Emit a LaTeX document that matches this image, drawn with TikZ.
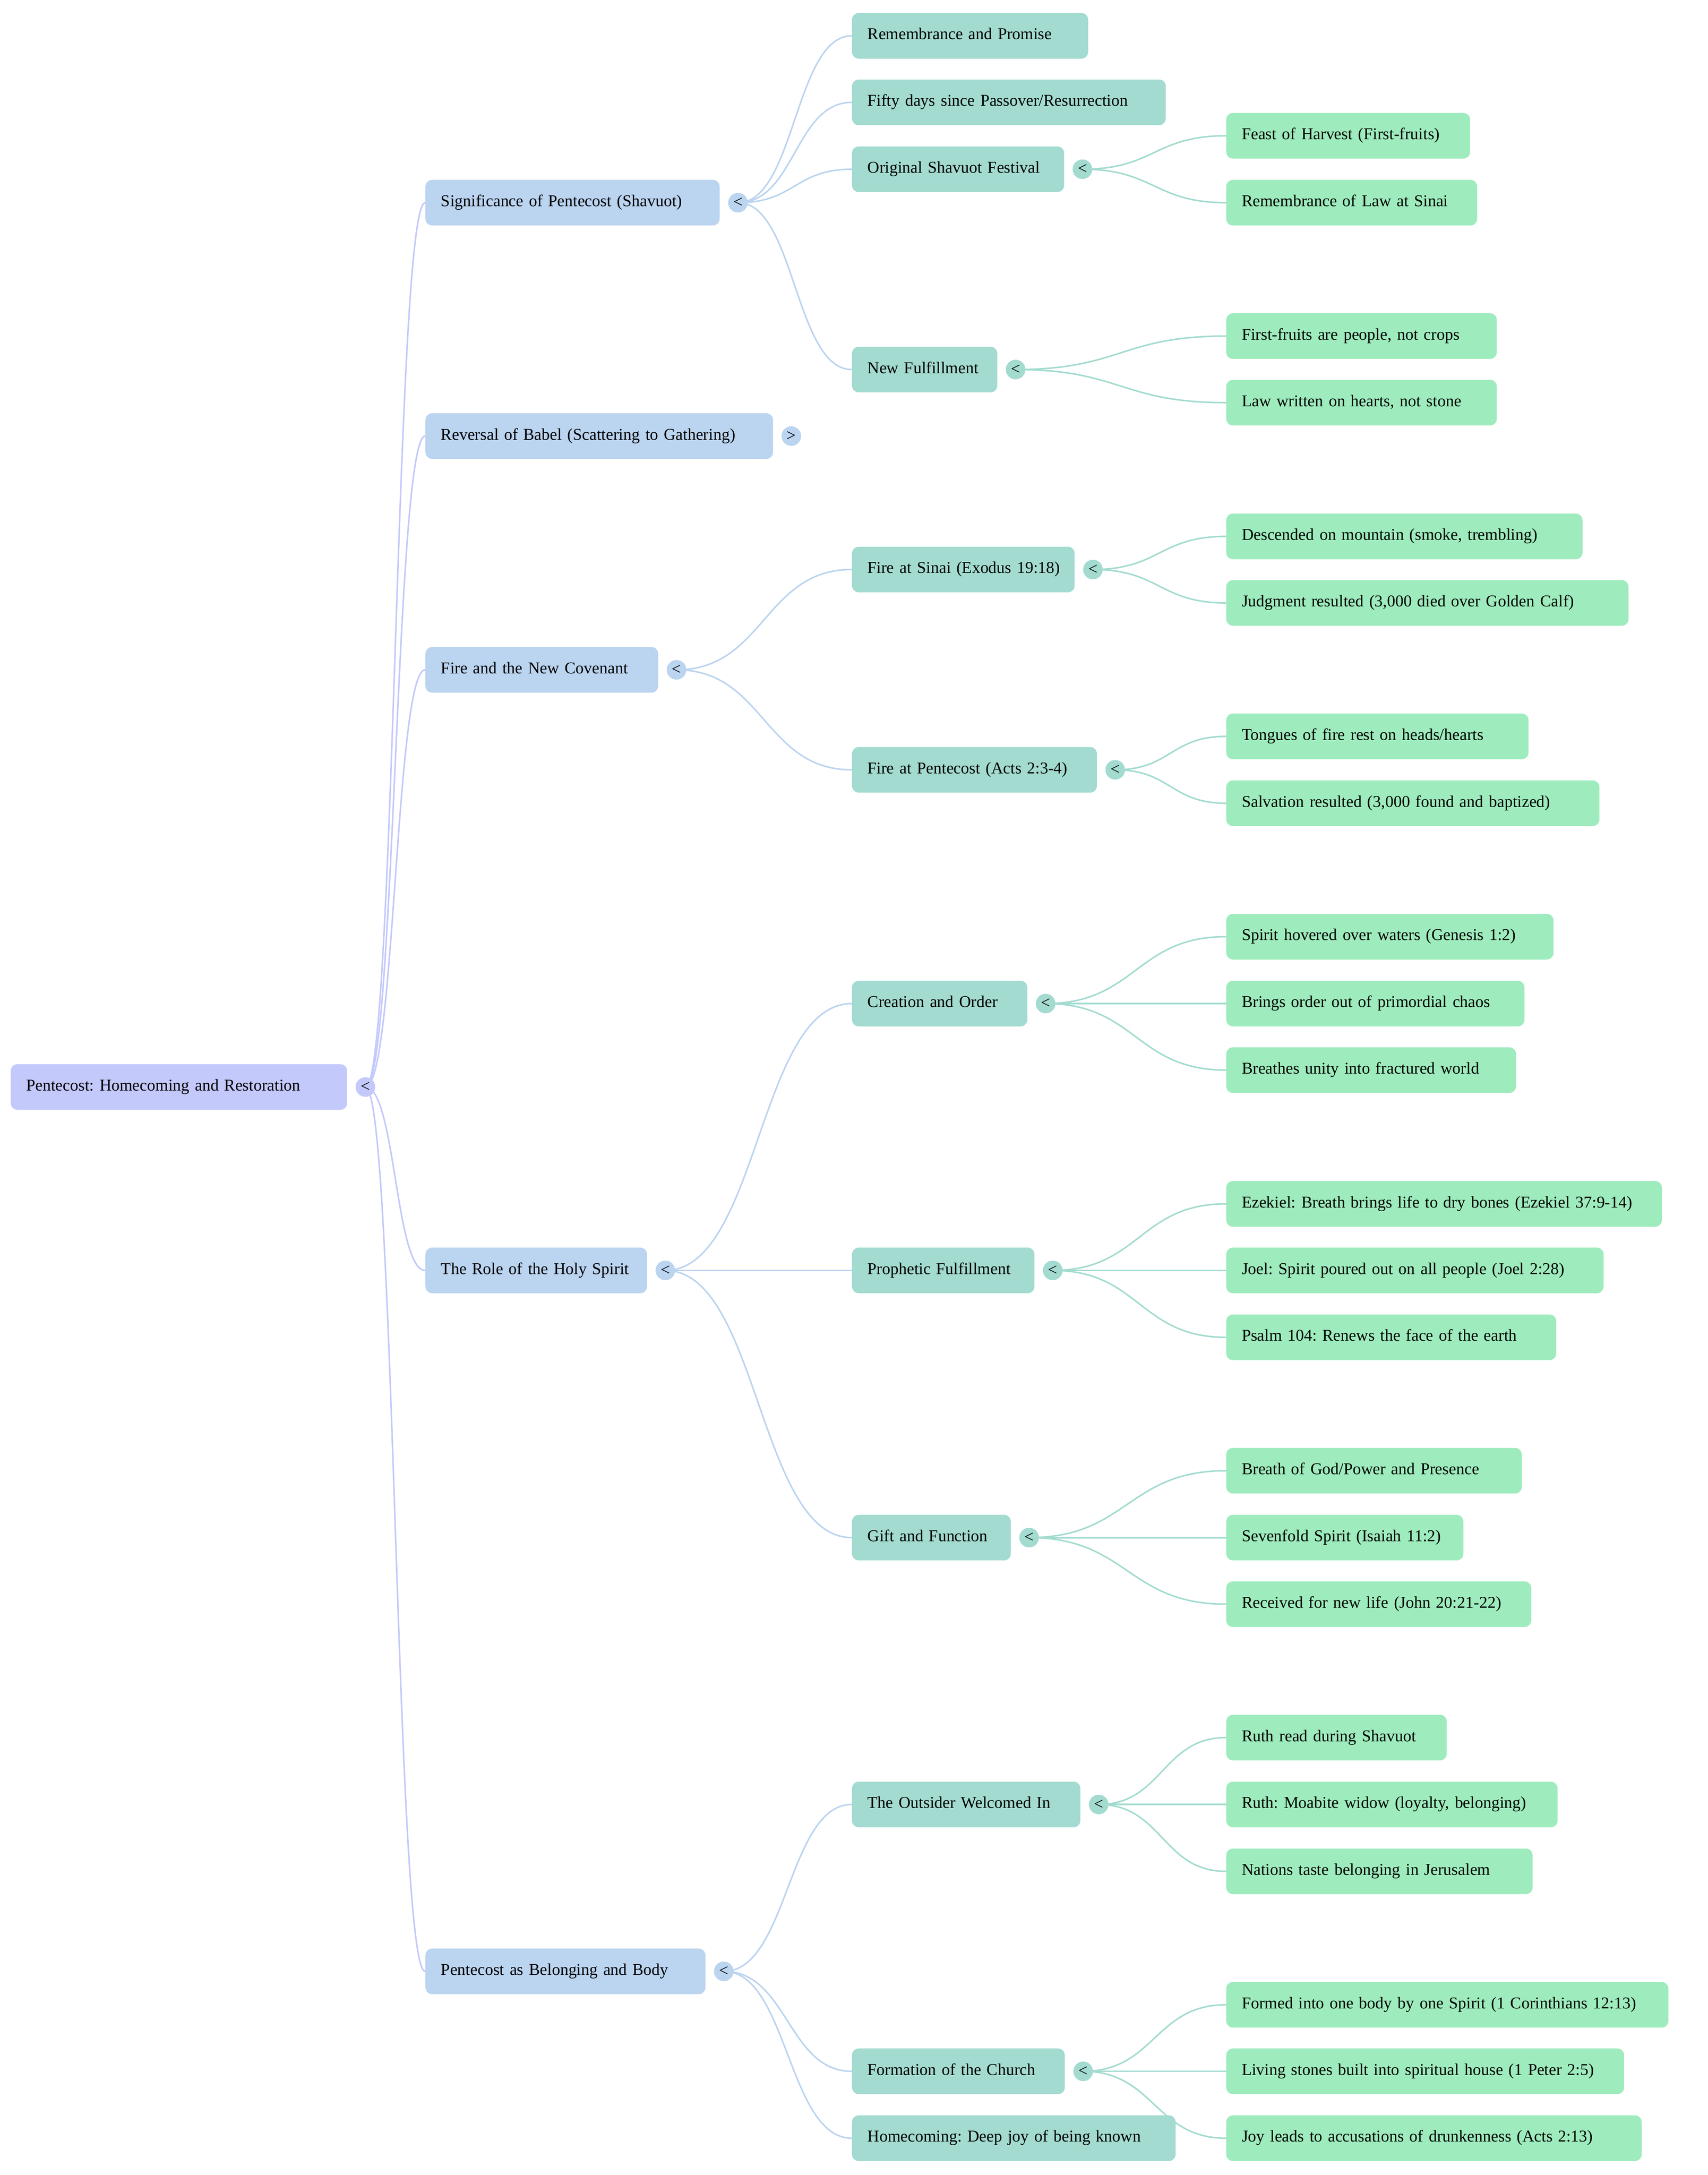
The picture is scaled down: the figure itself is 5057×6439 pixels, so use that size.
\documentclass[tikz,border=0pt]{standalone}
\usepackage{fontspec}
\setmainfont{Liberation Serif}
\usetikzlibrary{calc}
\pgfdeclarelayer{bg}
\pgfsetlayers{bg,main}
\definecolor{c0}{RGB}{196,201,252}
\definecolor{c1}{RGB}{187,212,240}
\definecolor{c2}{RGB}{163,219,208}
\definecolor{c3}{RGB}{158,236,189}
\newcommand\mmfont{\fontsize{13.9pt}{16pt}\selectfont\frenchspacing}
\tikzset{
  box/.style={rectangle, rounded corners=0.2cm, minimum height=1.35cm,
    inner xsep=0.46cm, inner ysep=0pt, text height=0.36cm, text depth=0.14cm,
    align=left, font=\mmfont, anchor=west, draw=none, text=black},
  lv0/.style={box, fill=c0},
  lv1/.style={box, fill=c1},
  lv2/.style={box, fill=c2},
  lv3/.style={box, fill=c3},
  knob/.style={circle, minimum size=0.58cm, inner sep=0pt, font=\mmfont, text=black},
  mmedge/.style={line width=0.045cm, line cap=round,
    to path={let \p1=(\tikztostart), \p2=(\tikztotarget) in
      .. controls ({0.5*\x1+0.5*\x2},\y1) and ({0.5*\x1+0.5*\x2},\y2) .. (\tikztotarget)}},
  e0/.style={mmedge, draw=c0},
  e1/.style={mmedge, draw=c1},
  e2/.style={mmedge, draw=c2},
}
% name, style, left, right, cy, text
\newcommand\mm[6]{%
  \pgfmathsetmacro\mmw{(#4-#3)*0.01}%
  \pgfmathsetmacro\mmtw{(#4-#3-92)*0.01}%
  \node[#2, minimum width=\mmw cm, text width=\mmtw cm] (#1) at (#3,#5) {\mbox{#6}};}
% name, colour, right, cy, symbol
\newcommand\kn[5]{\node[knob, fill=#2] (#1-c) at (#3+55,#4) {#5};}
\begin{document}
\begin{tikzpicture}[x=0.01cm,y=-0.01cm]
\useasboundingbox (0,0) rectangle (5057,6439);
% root
\mm{root}{lv0}{31}{1027}{3218}{Pentecost: Homecoming and Restoration}
\kn{root}{c0}{1027}{3218}{<}
% level 1
\mm{sig}{lv1}{1259}{2130}{600}{Significance of Pentecost (Shavuot)}
\kn{sig}{c1}{2130}{600}{<}
\mm{babel}{lv1}{1259}{2288}{1291}{Reversal of Babel (Scattering to Gathering)}
\kn{babel}{c1}{2288}{1291}{>}
\mm{fire}{lv1}{1259}{1948}{1983}{Fire and the New Covenant}
\kn{fire}{c1}{1948}{1983}{<}
\mm{role}{lv1}{1259}{1915}{3761}{The Role of the Holy Spirit}
\kn{role}{c1}{1915}{3761}{<}
\mm{belong}{lv1}{1259}{2088}{5836}{Pentecost as Belonging and Body}
\kn{belong}{c1}{2088}{5836}{<}
% level 2
\mm{rem}{lv2}{2522}{3221}{106}{Remembrance and Promise}
\mm{fifty}{lv2}{2522}{3451}{303}{Fifty days since Passover/Resurrection}
\mm{orig}{lv2}{2522}{3150}{501}{Original Shavuot Festival}
\kn{orig}{c2}{3150}{501}{<}
\mm{newf}{lv2}{2522}{2952}{1094}{New Fulfillment}
\kn{newf}{c2}{2952}{1094}{<}
\mm{fsinai}{lv2}{2522}{3181}{1686}{Fire at Sinai (Exodus 19:18)}
\kn{fsinai}{c2}{3181}{1686}{<}
\mm{fpent}{lv2}{2522}{3247}{2279}{Fire at Pentecost (Acts 2:3-4)}
\kn{fpent}{c2}{3247}{2279}{<}
\mm{creat}{lv2}{2522}{3041}{2971}{Creation and Order}
\kn{creat}{c2}{3041}{2971}{<}
\mm{proph}{lv2}{2522}{3062}{3761}{Prophetic Fulfillment}
\kn{proph}{c2}{3062}{3761}{<}
\mm{gift}{lv2}{2522}{2992}{4552}{Gift and Function}
\kn{gift}{c2}{2992}{4552}{<}
\mm{outs}{lv2}{2522}{3198}{5342}{The Outsider Welcomed In}
\kn{outs}{c2}{3198}{5342}{<}
\mm{form}{lv2}{2522}{3152}{6132}{Formation of the Church}
\kn{form}{c2}{3152}{6132}{<}
\mm{home}{lv2}{2522}{3480}{6330}{Homecoming: Deep joy of being known}
% level 3
\mm{feast}{lv3}{3630}{4352}{402}{Feast of Harvest (First-fruits)}
\mm{lawsinai}{lv3}{3630}{4373}{600}{Remembrance of Law at Sinai}
\mm{ffpeople}{lv3}{3630}{4431}{995}{First-fruits are people, not crops}
\mm{lawhearts}{lv3}{3630}{4431}{1192}{Law written on hearts, not stone}
\mm{descended}{lv3}{3630}{4685}{1588}{Descended on mountain (smoke, trembling)}
\mm{judgment}{lv3}{3630}{4821}{1785}{Judgment resulted (3,000 died over Golden Calf)}
\mm{tongues}{lv3}{3630}{4525}{2180}{Tongues of fire rest on heads/hearts}
\mm{salvation}{lv3}{3630}{4735}{2378}{Salvation resulted (3,000 found and baptized)}
\mm{hovered}{lv3}{3630}{4599}{2773}{Spirit hovered over waters (Genesis 1:2)}
\mm{order}{lv3}{3630}{4513}{2971}{Brings order out of primordial chaos}
\mm{unity}{lv3}{3630}{4488}{3168}{Breathes unity into fractured world}
\mm{ezekiel}{lv3}{3630}{4920}{3564}{Ezekiel: Breath brings life to dry bones (Ezekiel 37:9-14)}
\mm{joel}{lv3}{3630}{4747}{3761}{Joel: Spirit poured out on all people (Joel 2:28)}
\mm{psalm}{lv3}{3630}{4607}{3959}{Psalm 104: Renews the face of the earth}
\mm{breath}{lv3}{3630}{4505}{4354}{Breath of God/Power and Presence}
\mm{sevenfold}{lv3}{3630}{4332}{4552}{Sevenfold Spirit (Isaiah 11:2)}
\mm{received}{lv3}{3630}{4533}{4749}{Received for new life (John 20:21-22)}
\mm{ruthread}{lv3}{3630}{4283}{5144}{Ruth read during Shavuot}
\mm{moabite}{lv3}{3630}{4611}{5342}{Ruth: Moabite widow (loyalty, belonging)}
\mm{nations}{lv3}{3630}{4537}{5540}{Nations taste belonging in Jerusalem}
\mm{formed}{lv3}{3630}{4939}{5935}{Formed into one body by one Spirit (1 Corinthians 12:13)}
\mm{living}{lv3}{3630}{4808}{6132}{Living stones built into spiritual house (1 Peter 2:5)}
\mm{joy}{lv3}{3630}{4860}{6330}{Joy leads to accusations of drunkenness (Acts 2:13)}
% connectors
\begin{pgfonlayer}{bg}
\fill[white] (0,0) rectangle (5057,6439);
\foreach \t in {sig,babel,fire,role,belong} \draw[e0] (root-c.center) to (\t.west);
\foreach \t in {rem,fifty,orig,newf} \draw[e1] (sig-c.center) to (\t.west);
\foreach \t in {fsinai,fpent} \draw[e1] (fire-c.center) to (\t.west);
\foreach \t in {creat,proph,gift} \draw[e1] (role-c.center) to (\t.west);
\foreach \t in {outs,form,home} \draw[e1] (belong-c.center) to (\t.west);
\foreach \t in {feast,lawsinai} \draw[e2] (orig-c.center) to (\t.west);
\foreach \t in {ffpeople,lawhearts} \draw[e2] (newf-c.center) to (\t.west);
\foreach \t in {descended,judgment} \draw[e2] (fsinai-c.center) to (\t.west);
\foreach \t in {tongues,salvation} \draw[e2] (fpent-c.center) to (\t.west);
\foreach \t in {hovered,order,unity} \draw[e2] (creat-c.center) to (\t.west);
\foreach \t in {ezekiel,joel,psalm} \draw[e2] (proph-c.center) to (\t.west);
\foreach \t in {breath,sevenfold,received} \draw[e2] (gift-c.center) to (\t.west);
\foreach \t in {ruthread,moabite,nations} \draw[e2] (outs-c.center) to (\t.west);
\foreach \t in {formed,living,joy} \draw[e2] (form-c.center) to (\t.west);
\end{pgfonlayer}
\end{tikzpicture}
\end{document}
